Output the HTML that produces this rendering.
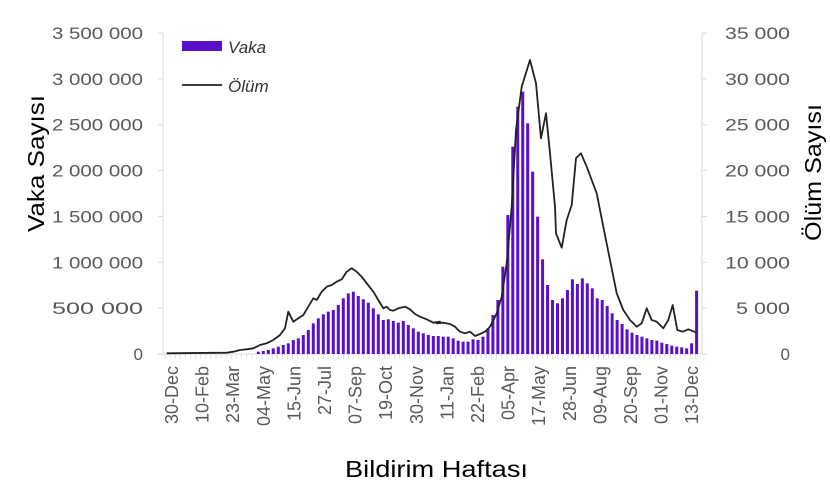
<!DOCTYPE html>
<html><head><meta charset="utf-8"><style>
body{margin:0;background:#fff;}
svg{display:block;font-family:"Liberation Sans",sans-serif;}
</style></head><body>
<svg id="c" width="830" height="497" viewBox="0 0 830 497" xmlns="http://www.w3.org/2000/svg"></svg>
<script>
const s=document.getElementById('c');let h='';
const Y0=354;
h+='<line x1="163" y1="33" x2="163" y2="354" stroke="#d9d9d9"/>';
h+='<line x1="702" y1="33" x2="702" y2="354" stroke="#d9d9d9"/>';
h+='<line x1="163" y1="354" x2="702" y2="354" stroke="#d9d9d9"/>';
for(let k=0;k<=7;k++){const y=Y0-k*321/7;
 const v=(k*500000).toLocaleString('en').replace(/,/g,' ');
 h+=`<line x1="158" y1="${y}" x2="163" y2="${y}" stroke="#d9d9d9"/>`;
 h+=`<line x1="702" y1="${y}" x2="707" y2="${y}" stroke="#d9d9d9"/>`;
 if(k==0)h+=`<text x="143" y="${y+6}" font-size="17" fill="#595959" text-anchor="end">0</text>`;
 else h+=`<text x="52" y="${y+6}" font-size="17" fill="#595959" textLength="91" lengthAdjust="spacingAndGlyphs">${v}</text>`;
 const w=(k*5000);const wv=w>=1000?(Math.floor(w/1000)+' '+String(w%1000).padStart(3,'0')):'0';
 if(k==0)h+=`<text x="790" y="${y+6}" font-size="17" fill="#595959" text-anchor="end">0</text>`;
 else h+=`<text x="${w>=10000?725:736}" y="${y+6}" font-size="17" fill="#595959" textLength="${w>=10000?65:54}" lengthAdjust="spacingAndGlyphs">${wv}</text>`;}
for(let x=165;x<=699;x+=5.1)h+=`<line x1="${x}" y1="354" x2="${x}" y2="359" stroke="#e0e0e0"/>`;
const a=[995,993,990,985,980,975,970,960,955,945,930,910,895,883,875,870,855,835,820,815,828,838,848,865,883,900,898,903,908,903,915,925,935,940,945];
a.forEach((zy,i)=>{const x=258.3+5*i,ht=334-zy/3;h+=`<rect x="${x-1.5}" y="${Y0-ht}" width="3" height="${ht}" fill="#5a0fc8"/>`;});
const b=[948,948,950,950,955,962,965,965,958,960,950,925,885,840,740,585,380,260,215,310,455,590,718,795,840,850,835,810,778,792,775,790,805,835,840,858,880,900,912,928,938,945,950,955,960,962,968,972,977,980,982,985,970,812];
b.forEach((zy,i)=>{const x=433.3+263.3/53*i,ht=334-zy/3;h+=`<rect x="${x-1.5}" y="${Y0-ht}" width="3" height="${ht}" fill="#5a0fc8"/>`;});
const l1=[[20,1000],[200,998],[220,995],[240,990],[260,988],[280,985],[300,975],[320,970],[340,960],[360,945],[375,925],[385,875],[400,905],[415,895],[430,885],[445,860],[460,835],[470,840],[485,815],[500,800],[515,795],[530,785],[545,778],[560,755],[575,745],[590,755],[605,770],[620,790],[640,815],[655,840],[670,865],[680,860],[690,870],[700,872],[715,865],[735,860],[750,868],[765,882],[780,890],[800,898],[820,908],[840,905]];
const l2=[[20,910],[40,908],[60,912],[75,920],[90,935],[105,940],[120,935],[135,948],[150,942],[165,935],[180,920],[200,880],[215,830],[230,730],[245,560],[258,330],[275,200],[300,120],[318,190],[333,355],[348,280],[360,400],[375,560],[378,640],[395,683],[410,600],[425,555],[438,415],[453,400],[470,440],[500,520],[520,620],[540,720],[560,820],[580,870],[600,900],[620,920],[635,910],[650,865],[665,900],[680,905],[700,925],[715,900],[728,855],[742,930],[758,935],[775,928],[800,938]];
let pts=l1.map(p=>[(160+p[0]/3).toFixed(1),(20+p[1]/3).toFixed(1)]).concat(l2.map(p=>[(430+p[0]/3).toFixed(1),(20+p[1]/3).toFixed(1)]));
h+=`<polyline points="${pts.map(p=>p.join(',')).join(' ')}" fill="none" stroke="#222" stroke-width="1.8" stroke-linejoin="round"/>`;
const L=['30-Dec','10-Feb','23-Mar','04-May','15-Jun','27-Jul','07-Sep','19-Oct','30-Nov','11-Jan','22-Feb','05-Apr','17-May','28-Jun','09-Aug','20-Sep','01-Nov','13-Dec'];
L.forEach((t,k)=>{const x=172+30.6*k;h+=`<text transform="translate(${x+6},366) rotate(-90)" font-size="18" fill="#595959" text-anchor="end">${t}</text>`;});
h+='<rect x="182" y="41" width="40" height="10" fill="#5a0fc8"/><text x="228" y="53" font-size="17" font-style="italic" fill="#333">Vaka</text>';
h+='<line x1="182" y1="85" x2="222" y2="85" stroke="#222" stroke-width="1.8"/><text x="228" y="92" font-size="17" font-style="italic" fill="#333">Ölüm</text>';
h+='<text transform="translate(44,232) rotate(-90)" font-size="23" fill="#000" textLength="137" lengthAdjust="spacingAndGlyphs">Vaka Sayısı</text>';
h+='<text transform="translate(821,241) rotate(-90)" font-size="23" fill="#000" textLength="137" lengthAdjust="spacingAndGlyphs">Ölüm Sayısı</text>';
h+='<text x="345" y="477" font-size="23" fill="#000" textLength="183" lengthAdjust="spacingAndGlyphs">Bildirim Haftası</text>';
s.innerHTML=h;
</script>
</body></html>
